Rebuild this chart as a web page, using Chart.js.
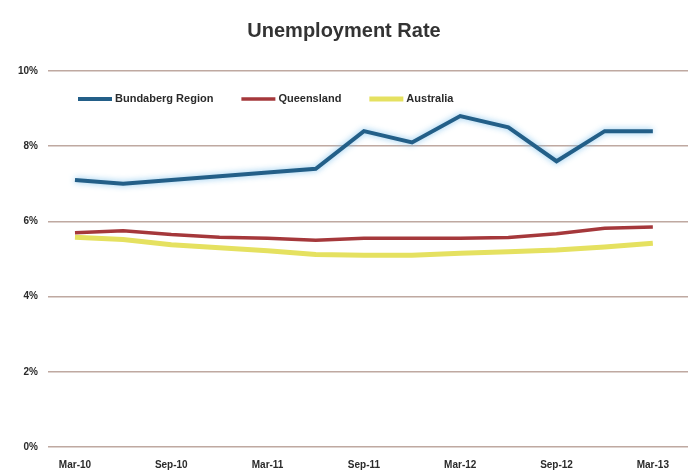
<!DOCTYPE html>
<html>
<head>
<meta charset="utf-8">
<script src="https://cdn.jsdelivr.net/npm/chart.js@4.4.1/dist/chart.umd.min.js"></script>
<style>
  html, body { margin: 0; padding: 0; background: #fff; }
  #wrap { width: 692px; height: 475px; }
</style>
</head>
<body>
<div id="wrap"><canvas id="rateChart"></canvas></div>
<script>
// quarterly readings, Mar-10 .. Mar-13
const quarters = ['Mar-10', 'Jun-10', 'Sep-10', 'Dec-10', 'Mar-11', 'Jun-11', 'Sep-11',
                  'Dec-11', 'Mar-12', 'Jun-12', 'Sep-12', 'Dec-12', 'Mar-13'];
const bundaberg = [7.1, 7.0, 7.1, 7.2, 7.3, 7.4, 8.4, 8.1, 8.8, 8.5, 7.6, 8.4, 8.4];
const queensland = [5.7, 5.75, 5.65, 5.58, 5.55, 5.5, 5.55, 5.55, 5.55, 5.57, 5.67, 5.82, 5.85];
const australia = [5.58, 5.52, 5.38, 5.3, 5.22, 5.12, 5.1, 5.1, 5.15, 5.19, 5.24, 5.32, 5.42];
const yTicks = [0, 2, 4, 6, 8, 10];

const toPoints = arr => arr.map((v, i) => ({ x: i, y: v }));
const gridColor = 'rgba(170, 140, 130, 0.75)';
const labelFont = '11px "Liberation Sans"';

// soft glow under the regional line
const glow = {
    id: 'glow',
    beforeDatasetDraw(chart, args) {
        if (args.index !== 0) return;
        chart.ctx.save();
        chart.ctx.shadowColor = 'rgba(120, 190, 235, 0.9)';
        chart.ctx.shadowBlur = 6;
    },
    afterDatasetDraw(chart, args) {
        if (args.index === 0) chart.ctx.restore();
    }
};

// one-row legend sitting inside the plot, under the top gridline
const innerLegend = {
    id: 'innerLegend',
    afterDatasetsDraw(chart) {
        const ctx = chart.ctx;
        const area = chart.chartArea;
        let x = area.left + 30;
        const y = area.top + 28;
        ctx.save();
        ctx.font = 'bold ' + labelFont;
        ctx.textBaseline = 'middle';
        chart.data.datasets.forEach(ds => {
            ctx.strokeStyle = ds.borderColor;
            ctx.lineWidth = ds.borderWidth;
            ctx.beginPath();
            ctx.moveTo(x, y);
            ctx.lineTo(x + 34, y);
            ctx.stroke();
            x += 37;
            ctx.fillStyle = '#2a2a2a';
            ctx.fillText(ds.label, x, y);
            x += ctx.measureText(ds.label).width + 28;
        });
        ctx.restore();
    }
};

new Chart(document.getElementById('rateChart'), {
    type: 'line',
    data: {
        datasets: [
            {
                label: 'Bundaberg Region',
                data: toPoints(bundaberg),
                borderColor: '#235f88',
                borderWidth: 4,
                pointRadius: 0,
                tension: 0
            },
            {
                label: 'Queensland',
                data: toPoints(queensland),
                borderColor: '#a5383b',
                borderWidth: 3.5,
                pointRadius: 0,
                tension: 0
            },
            {
                label: 'Australia',
                data: toPoints(australia),
                borderColor: '#e5e160',
                borderWidth: 5,
                pointRadius: 0,
                tension: 0
            }
        ]
    },
    options: {
        responsive: true,
        maintainAspectRatio: false,
        animation: false,
        layout: { padding: { left: 0, right: 4, top: 0, bottom: 4 } },
        scales: {
            x: {
                type: 'linear',
                min: -0.56,
                max: 12.73,
                afterBuildTicks: scale => {
                    scale.ticks = quarters.map((q, i) => ({ value: i })).filter(t => t.value % 2 === 0);
                },
                afterFit: scale => { scale.height = 24; },
                ticks: {
                    callback: value => quarters[value],
                    autoSkip: false,
                    maxRotation: 0,
                    padding: 12,
                    color: '#2a2a2a',
                    font: { family: 'Liberation Sans', size: 10, weight: 'bold' }
                },
                grid: { display: false, drawTicks: false },
                border: { display: false }
            },
            y: {
                min: 0,
                max: 10,
                afterBuildTicks: scale => {
                    scale.ticks = yTicks.map(v => ({ value: v }));
                },
                afterFit: scale => { scale.width = 48; },
                ticks: {
                    callback: value => value + '%',
                    padding: 10,
                    color: '#2a2a2a',
                    font: { family: 'Liberation Sans', size: 10, weight: 'bold' }
                },
                grid: { color: gridColor, lineWidth: 1.5, drawTicks: false },
                border: { display: false }
            }
        },
        plugins: {
            title: {
                display: true,
                text: 'Unemployment Rate',
                color: '#333',
                font: { family: 'Liberation Sans', size: 20, weight: 'bold' },
                padding: { top: 19, bottom: 28 }
            },
            legend: { display: false },
            tooltip: { enabled: false }
        }
    },
    plugins: [glow, innerLegend]
});
</script>
</body>
</html>
